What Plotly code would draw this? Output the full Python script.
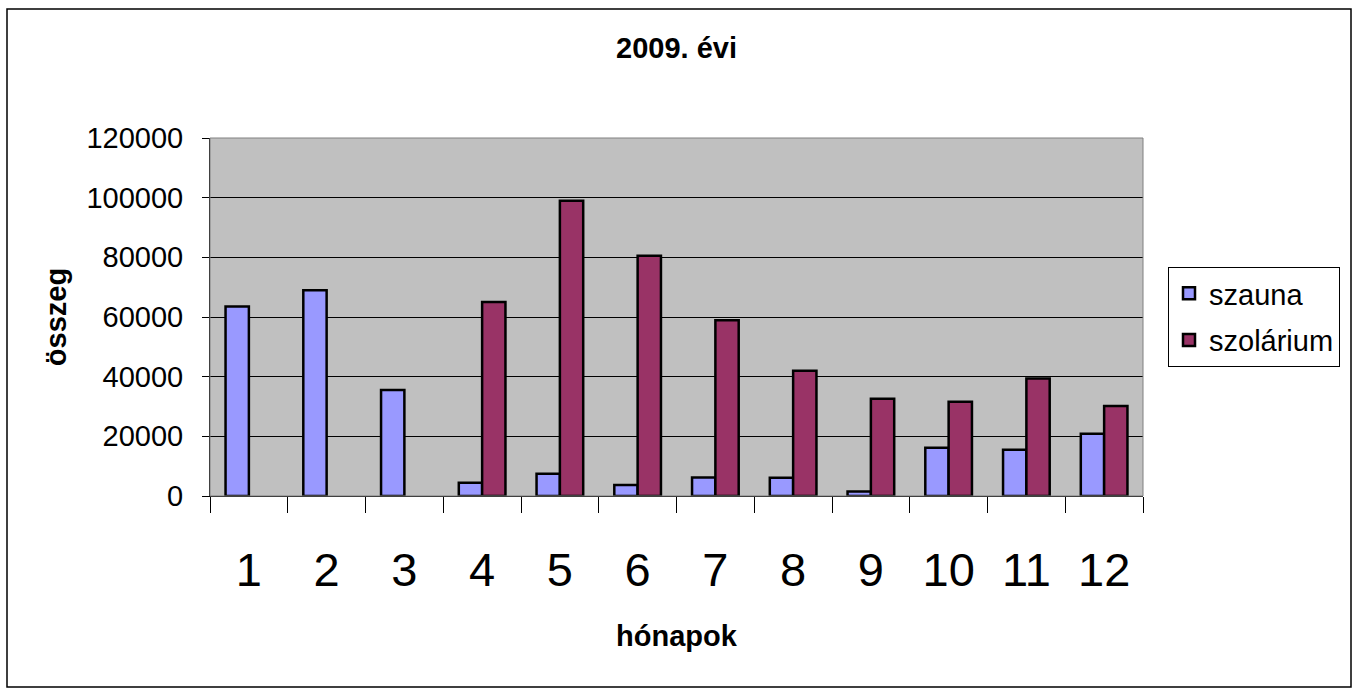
import plotly.graph_objects as go

months = ["1", "2", "3", "4", "5", "6", "7", "8", "9", "10", "11", "12"]
szauna = [63500, 69000, 35500, 4400, 7500, 3700, 6200, 6100, 1500, 16200, 15500, 20900]
szolarium = [None, None, None, 65000, 99000, 80500, 58900, 42000, 32600, 31600, 39400, 30200]
y_ticks = [0, 20000, 40000, 60000, 80000, 100000, 120000]

W, H = 1359, 689
L, R, T, B = 210, 216, 138, 193
pw = W - L - R
ph = H - T - B

def px_x(px):
    return (px - L) / pw

def px_y(py):
    return (H - B - py) / ph

FONT = "Liberation Sans, Arial, sans-serif"

fig = go.Figure()
fig.add_trace(go.Bar(x=months, y=szauna, name="szauna", legendgroup="a",
                     marker=dict(color="#9999FF", line=dict(color="black", width=2.5))))
fig.add_trace(go.Bar(x=months, y=szolarium, name="szolárium", legendgroup="b",
                     marker=dict(color="#993366", line=dict(color="black", width=2.5))))

fig.update_layout(
    width=W, height=H,
    margin=dict(l=L, r=R, t=T, b=B, autoexpand=False),
    paper_bgcolor="white",
    plot_bgcolor="#C0C0C0",
    font=dict(family=FONT, color="black", size=29),
    barmode="group", bargap=0.40, bargroupgap=0,
    title=dict(text="<b>2009. évi</b>", x=0.5, xanchor="center", xref="paper",
               y=1 - 48 / H, yanchor="middle", yref="container",
               font=dict(size=29, family=FONT, color="black")),
    legend=dict(x=px_x(1168), y=px_y(267), xanchor="left", yanchor="top",
                bordercolor="black", borderwidth=1, bgcolor="white",
                font=dict(size=29, family=FONT), tracegroupgap=6),
    showlegend=True,
)

fig.update_xaxes(
    type="category", tickson="boundaries", ticks="outside", ticklen=16,
    tickcolor="black", tickwidth=1, showline=True, linecolor="black", linewidth=1,
    showgrid=False, tickfont=dict(size=47, family=FONT), ticklabelstandoff=33,
    title=dict(text="<b>hónapok</b>", font=dict(size=29, family=FONT), standoff=30),
    automargin=False,
)
fig.update_yaxes(
    range=[0, 120000], tickvals=y_ticks, tickformat="d", ticks="outside", ticklen=7,
    tickcolor="black", showline=True, linecolor="black", linewidth=1,
    showgrid=True, gridcolor="black", gridwidth=1, zeroline=False,
    tickfont=dict(size=29, family=FONT), ticklabelstandoff=13,
    title=dict(text="<b>összeg</b>", font=dict(size=29, family=FONT), standoff=11),
    automargin=False,
)

# plot area border
fig.add_shape(type="rect", xref="paper", yref="paper", x0=0, x1=1, y0=0, y1=1,
              line=dict(color="#808080", width=1), layer="above")
# outer chart border
fig.add_shape(type="rect", xref="paper", yref="paper",
              x0=px_x(7), x1=px_x(1351), y0=px_y(687), y1=px_y(9),
              line=dict(color="black", width=1.5), layer="above")

fig.write_html("out.html", config={"displayModeBar": False},
               post_script="document.body.style.margin='0';document.body.style.overflow='hidden';")
